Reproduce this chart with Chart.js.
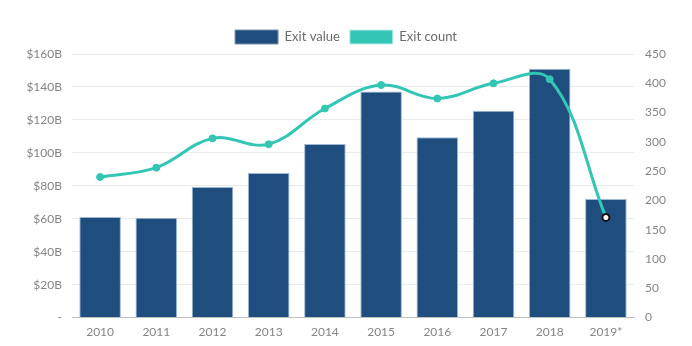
<!DOCTYPE html>
<html>
<head>
<meta charset="utf-8">
<script src="https://cdn.jsdelivr.net/npm/chart.js@4/dist/chart.umd.min.js"></script>
<style>
html,body{margin:0;padding:0;background:#fff;}
#wrap{width:692px;height:346px;}
</style>
</head>
<body>
<div id="wrap"><canvas id="c" width="692" height="346"></canvas></div>
<script>
const categories = ["2010","2011","2012","2013","2014","2015","2016","2017","2018","2019*"];
const exitValue = [61, 60.6, 79.2, 87.8, 105.3, 137.2, 109.4, 125.5, 151, 72];
const exitCount = [240, 256, 306, 296, 357, 397, 374, 400, 407, 171];
const leftTicks = ["-","$20B","$40B","$60B","$80B","$100B","$120B","$140B","$160B"];
const rightTicks = ["0","50","100","150","200","250","300","350","400","450"];

const font = {family: "Lato, 'Open Sans', sans-serif", size: 12};
const tickColor = "#858585";

const pointBg = exitCount.map((v,i)=> i===exitCount.length-1 ? "#ffffff" : "#33c6b4");
const pointBorder = exitCount.map((v,i)=> i===exitCount.length-1 ? "#111111" : "#33c6b4");
const pointBW = exitCount.map((v,i)=> i===exitCount.length-1 ? 2 : 1);

new Chart(document.getElementById("c"), {
  data: {
    labels: categories,
    datasets: [
      {
        type: "bar",
        label: "Exit value",
        data: exitValue,
        yAxisID: "y",
        backgroundColor: "#1f4e7e",
        borderColor: "#9db8d3",
        borderWidth: 1,
        barPercentage: 0.74,
        categoryPercentage: 1.0,
        order: 1
      },
      {
        type: "line",
        label: "Exit count",
        data: exitCount,
        yAxisID: "y1",
        borderColor: "#33c6b4",
        backgroundColor: "#33c6b4",
        borderWidth: 3,
        tension: 0.38,
        pointRadius: 3.5,
        pointBackgroundColor: pointBg,
        pointBorderColor: pointBorder,
        pointBorderWidth: pointBW,
        order: 0
      }
    ]
  },
  options: {
    responsive: false,
    animation: false,
    devicePixelRatio: 1,
    layout: {padding: {top: 20, bottom: 0, left: 0, right: 0}},
    plugins: {
      tooltip: {enabled: false},
      legend: {
        position: "top",
        labels: {
          boxWidth: 43,
          boxHeight: 14,
          padding: 10,
          color: "#6b6b6b",
          font: {family: font.family, size: 13},
          generateLabels: function(chart){
            return chart.data.datasets.map((ds,i)=>({
              text: ds.label,
              fillStyle: i===0 ? "#1f4e7e" : "#33c6b4",
              strokeStyle: i===0 ? "#7a8ea3" : "#bdeee8",
              lineWidth: 1,
              hidden: false,
              datasetIndex: i,
              fontColor: "#6b6b6b"
            }));
          }
        }
      }
    },
    scales: {
      x: {
        grid: {display: false, drawTicks: false},
        border: {display: true, color: "#bfbfbf", width: 1},
        ticks: {color: tickColor, font: font, padding: 7, maxRotation: 0}
      },
      y: {
        position: "left",
        min: 0, max: 160,
        afterFit: function(s){ s.width = 72; },
        grid: {color: "#ebebeb", drawTicks: false},
        border: {display: false},
        ticks: {
          stepSize: 20,
          color: tickColor, font: font, padding: 10,
          callback: function(v){ return leftTicks[Math.round(v/20)]; }
        }
      },
      y1: {
        position: "right",
        min: 0, max: 450,
        afterFit: function(s){ s.width = 58; },
        grid: {display: false, drawTicks: false},
        border: {display: false},
        ticks: {
          stepSize: 50,
          color: tickColor, font: font, padding: 11,
          callback: function(v){ return rightTicks[Math.round(v/50)]; }
        }
      }
    }
  }
});
</script>
</body>
</html>
